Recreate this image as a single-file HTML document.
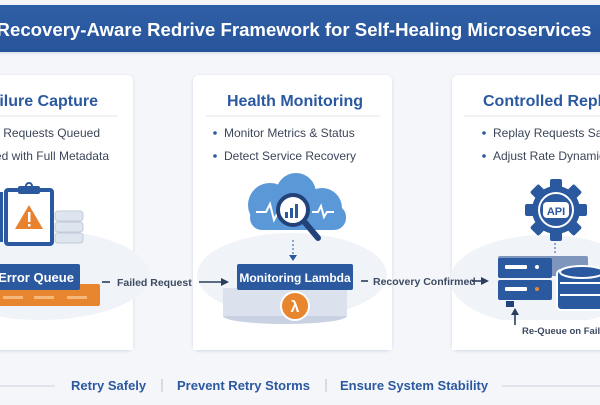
<!DOCTYPE html>
<html><head><meta charset="utf-8"><style>
body{margin:0;width:600px;height:400px;overflow:hidden;background:#f3f5f9;font-family:"Liberation Sans",sans-serif}
</style></head><body>
<svg width="600" height="400" viewBox="0 0 600 400" xmlns="http://www.w3.org/2000/svg" font-family="Liberation Sans, sans-serif">
<defs>
<linearGradient id="bn" x1="0" y1="0" x2="0" y2="1"><stop offset="0" stop-color="#2f5fa6"/><stop offset="1" stop-color="#28549a"/></linearGradient>
<filter id="sh" x="-10%" y="-10%" width="120%" height="120%"><feDropShadow dx="0" dy="1" stdDeviation="1.5" flood-color="#8a9bb8" flood-opacity="0.35"/></filter>
</defs>
<rect x="0" y="0" width="600" height="400" fill="#f4f6fa"/>
<rect x="-5" y="5" width="610" height="47" fill="url(#bn)" filter="url(#sh)"/>
<text x="294" y="36" fill="#fff" font-size="18.6" font-weight="bold" text-anchor="middle">Recovery-Aware Redrive Framework for Self-Healing Microservices</text>

<!-- cards -->
<rect x="-60" y="75" width="193" height="275" rx="6" fill="#fff" filter="url(#sh)"/>
<rect x="193" y="75" width="199" height="275" rx="6" fill="#fff" filter="url(#sh)"/>
<rect x="452" y="75" width="170" height="275" rx="6" fill="#fff" filter="url(#sh)"/>
<ellipse cx="40" cy="275" rx="110" ry="45" fill="#f0f3f8"/>
<ellipse cx="292" cy="275" rx="95" ry="42" fill="#f0f3f8"/>
<ellipse cx="545" cy="280" rx="95" ry="45" fill="#f0f3f8"/>
<rect x="-60" y="320" width="193" height="30" fill="#fff"/>
<rect x="193" y="320" width="199" height="30" fill="#fff"/>
<rect x="452" y="320" width="170" height="30" fill="#fff"/>

<g fill="#2b59a0" font-weight="bold" font-size="16">
<text x="98" y="106" text-anchor="end">Failure Capture</text>
<text x="295" y="106" text-anchor="middle">Health Monitoring</text>
<text x="483" y="106">Controlled Replay</text>
</g>
<g stroke="#e2e6ee"><line x1="-40" y1="116" x2="118" y2="116"/><line x1="206" y1="116" x2="380" y2="116"/><line x1="464" y1="116" x2="610" y2="116"/></g>
<g fill="#3c4658" font-size="12">
<text x="100" y="137" text-anchor="end">Failed Requests Queued</text>
<text x="109" y="160" text-anchor="end">Stored with Full Metadata</text>
<text x="224" y="137">Monitor Metrics &amp; Status</text>
<text x="224" y="160">Detect Service Recovery</text>
<text x="493" y="137">Replay Requests Safely</text>
<text x="493" y="160">Adjust Rate Dynamically</text>
</g>
<g fill="#2b59a0"><circle cx="215" cy="133" r="1.8"/><circle cx="215" cy="156" r="1.8"/><circle cx="484" cy="133" r="1.8"/><circle cx="484" cy="156" r="1.8"/></g>

<!-- card1 icons -->
<rect x="-5" y="192" width="8" height="50" fill="#2b59a0"/>
<rect x="6" y="190" width="46" height="54" rx="2" fill="#fff" stroke="#2b59a0" stroke-width="4"/>
<rect x="18" y="186" width="22" height="8" rx="2" fill="#2b59a0"/><circle cx="29" cy="186" r="3" fill="none" stroke="#2b59a0" stroke-width="2"/>
<polygon points="29,205 43,229 15,229" fill="#e9822f"/><rect x="28" y="212" width="2.5" height="10" fill="#fff"/><rect x="28" y="224" width="2.5" height="2.5" fill="#fff"/>
<g fill="#dfe5ef" stroke="#c2cbd9"><rect x="55" y="211" width="28" height="10" rx="3"/><rect x="55" y="222" width="28" height="10" rx="3"/><rect x="55" y="233" width="28" height="10" rx="3"/></g>
<rect x="-10" y="284" width="110" height="22" rx="2" fill="#e8862f"/>
<g fill="#f5b77a"><rect x="3" y="296" width="20" height="3"/><rect x="34" y="296" width="20" height="3"/><rect x="67" y="296" width="20" height="3"/></g>
<rect x="-10" y="264" width="90" height="26" rx="2" fill="#2b59a0"/>
<text x="36" y="282" fill="#fff" font-size="13" font-weight="bold" text-anchor="middle">Error Queue</text>
<g fill="#3c4a62" font-size="10.5" font-weight="bold"><text x="117" y="286">Failed Request</text><text x="373" y="285">Recovery Confirmed</text></g>
<g stroke="#2b3d5e" stroke-width="1.6"><line x1="102" y1="282" x2="110" y2="282"/><line x1="199" y1="282" x2="224" y2="282"/><line x1="361" y1="281" x2="368" y2="281"/><line x1="472" y1="281" x2="484" y2="281"/></g>
<polygon points="229,282 221,278 221,286" fill="#2b3d5e"/><polygon points="489,281 481,277 481,285" fill="#2b3d5e"/>

<!-- card2 icons -->
<g fill="#5b98d8"><circle cx="270" cy="205" r="22"/><circle cx="296" cy="193" r="20"/><circle cx="322" cy="208" r="20"/><rect x="250" y="205" width="96" height="25" rx="12"/></g>
<polyline points="256,212 266,212 270,204 274,220 278,212 288,212" fill="none" stroke="#fff" stroke-width="2"/>
<polyline points="312,212 318,212 321,206 324,217 327,212 334,212" fill="none" stroke="#fff" stroke-width="2"/>
<line x1="302" y1="219" x2="318" y2="238" stroke="#22427a" stroke-width="6" stroke-linecap="round"/>
<circle cx="293" cy="210" r="15" fill="#fff" stroke="#22427a" stroke-width="4"/>
<g fill="#2b59a0"><rect x="285" y="212" width="3" height="6"/><rect x="290" y="208" width="3" height="10"/><rect x="295" y="204" width="3" height="14"/></g>
<line x1="293" y1="240" x2="293" y2="255" stroke="#2b59a0" stroke-dasharray="2,2"/><polygon points="293,261 289,255 297,255" fill="#2b59a0"/>
<ellipse cx="285" cy="316" rx="62" ry="8" fill="#c9d2e2"/>
<rect x="223" y="288" width="124" height="28" fill="#dbe2ee"/>
<rect x="237" y="264" width="116" height="26" rx="2" fill="#2b59a0"/>
<text x="295" y="282" fill="#fff" font-size="12" font-weight="bold" text-anchor="middle">Monitoring Lambda</text>
<circle cx="295" cy="306" r="14" fill="#e8862f" stroke="#fff" stroke-width="2"/>
<text x="295" y="312" fill="#fff" font-size="16" font-weight="bold" text-anchor="middle">λ</text>

<!-- card3 icons -->
<g transform="translate(556,210)">
<g fill="#2b59a0"><circle r="24"/>
<rect x="-6" y="-31" width="12" height="62" rx="2"/><rect x="-6" y="-31" width="12" height="62" rx="2" transform="rotate(45)"/><rect x="-6" y="-31" width="12" height="62" rx="2" transform="rotate(90)"/><rect x="-6" y="-31" width="12" height="62" rx="2" transform="rotate(135)"/></g>
<circle r="17" fill="#2b59a0" stroke="#fff" stroke-width="2"/>
<rect x="-13" y="-8" width="26" height="16" rx="4" fill="#fff"/>
<text x="0" y="5" fill="#2b59a0" font-size="11" font-weight="bold" text-anchor="middle">API</text></g>
<line x1="555" y1="243" x2="555" y2="255" stroke="#2b59a0" stroke-dasharray="2,2"/>
<rect x="498" y="256" width="90" height="20" rx="2" fill="#7e96bb"/>
<rect x="498" y="258" width="54" height="20" rx="2" fill="#2b59a0"/>
<rect x="498" y="280" width="54" height="20" rx="2" fill="#2b59a0"/>
<rect x="506" y="301" width="8" height="6" fill="#22427a"/>
<g fill="#fff"><rect x="505" y="265" width="22" height="4" rx="1"/><rect x="505" y="287" width="22" height="4" rx="1"/><circle cx="537" cy="267" r="2"/></g><circle cx="537" cy="289" r="2" fill="#e8862f"/>
<g fill="#2b59a0" stroke="#fff" stroke-width="2"><rect x="557" y="270" width="50" height="40" rx="4"/></g>
<g fill="#fff"><rect x="560" y="282" width="44" height="2"/><rect x="560" y="294" width="44" height="2"/></g>
<ellipse cx="582" cy="272" rx="22" ry="6" fill="#2b59a0" stroke="#fff" stroke-width="2"/>
<line x1="515" y1="325" x2="515" y2="314" stroke="#2b3d5e" stroke-width="1.6"/><polygon points="515,308 511,315 519,315" fill="#2b3d5e"/>
<text x="522" y="334" fill="#3c4a62" font-size="9.5" font-weight="bold">Re-Queue on Failure</text>

<!-- footer -->
<g stroke="#d8dee8" stroke-width="1.5"><line x1="0" y1="386" x2="55" y2="386"/><line x1="502" y1="386" x2="600" y2="386"/></g>
<g fill="#2b59a0" font-size="13" font-weight="bold">
<text x="71" y="390">Retry Safely</text><text x="177" y="390">Prevent Retry Storms</text><text x="340" y="390">Ensure System Stability</text></g>
<g stroke="#b8c2d2"><line x1="162" y1="379" x2="162" y2="392"/><line x1="326" y1="379" x2="326" y2="392"/></g>
</svg>
</body></html>
